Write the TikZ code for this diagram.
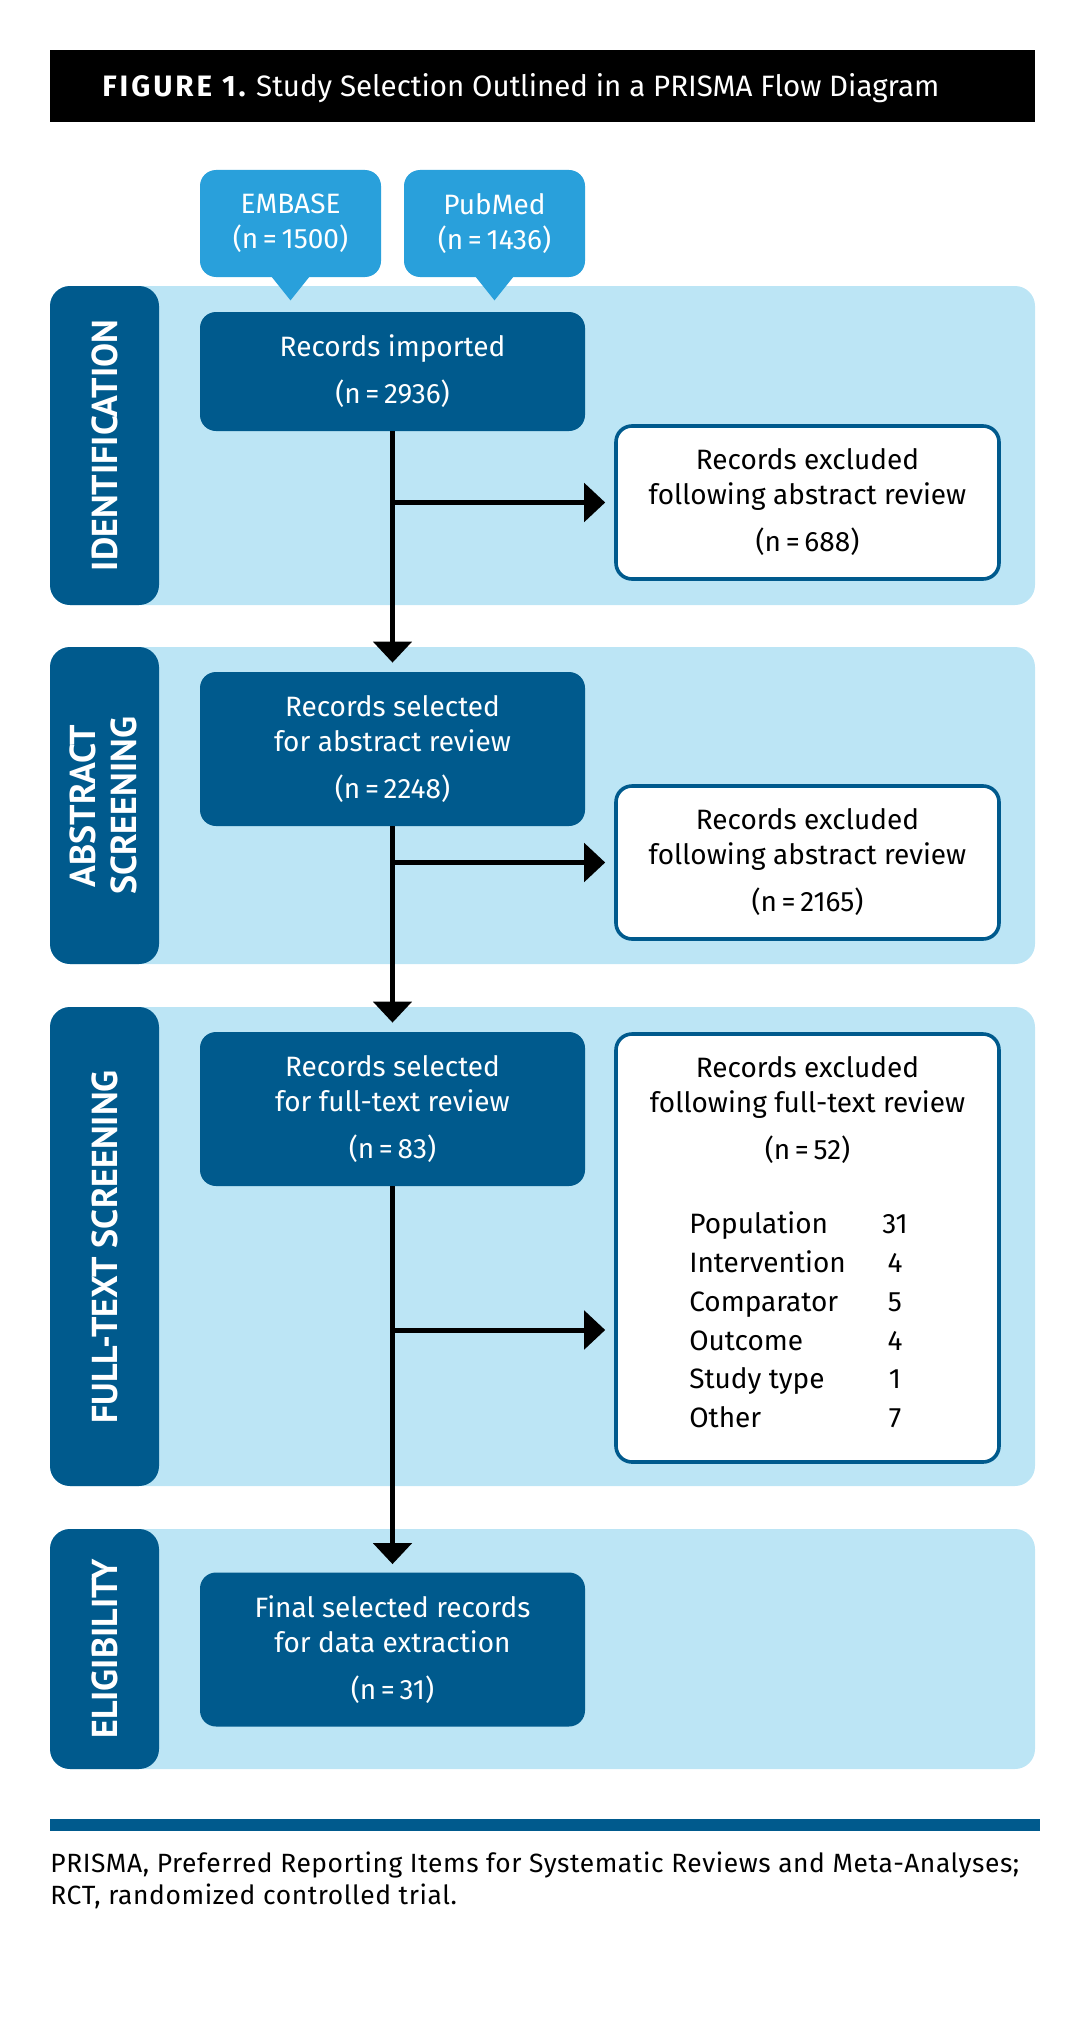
\documentclass[tikz,border=0pt]{standalone}
\usepackage{fontspec}
\setmainfont{Fira Sans}
\newfontfamily\stagefont{PT Sans}
\usetikzlibrary{arrows.meta, calc, positioning}

\definecolor{prismadark}{RGB}{0,90,141}
\definecolor{prismalight}{RGB}{188,229,245}
\definecolor{prismamid}{RGB}{41,160,219}

\newcommand{\prismatext}{\fontsize{14}{17.5}\selectfont}
\newcommand{\prismalabel}{\stagefont\bfseries\fontsize{18}{20.75}\selectfont}

\tikzset{
  stage/.style={fill=prismalight, rounded corners=10pt, inner sep=0pt,
    minimum width=492.5pt,
    path picture={\fill[prismadark] (path picture bounding box.south west)
      rectangle ([xshift=54.5pt]path picture bounding box.north west);}},
  stagelabel/.style={rotate=90, text=white, font=\prismalabel, align=center, inner sep=0pt},
  srcbox/.style={fill=prismamid, text=white, rounded corners=8pt, font=\prismatext,
    minimum width=90.5pt, minimum height=53.5pt, align=center, inner sep=0pt},
  selbox/.style={fill=prismadark, text=white, rounded corners=8pt, font=\prismatext,
    minimum width=192.5pt, align=center, inner sep=0pt},
  exclbox/.style={fill=white, draw=prismadark, line width=1.8pt, rounded corners=8pt,
    font=\prismatext, minimum width=191.5pt, align=center, inner sep=0pt},
  flow/.style={line width=2.5pt, -{Triangle[length=10.5pt,width=19pt]}},
}

\begin{document}
\begin{tikzpicture}[x=0.5pt, y=-0.5pt]
  \useasboundingbox (0,0) rectangle (1084,2017);

  % title bar
  \fill[black] (50,50) rectangle (1035,122);
  \node[anchor=base west, inner sep=0pt, text=white, font=\fontsize{14.75}{17}\selectfont] (title) at (102,97)
    {{\bfseries\addfontfeatures{LetterSpace=10}FIGURE 1.} Study Selection Outlined in a PRISMA Flow Diagram};

  % stages
  \node[stage, minimum height=159.5pt] (identstage) at (542.5,445.5) {};
  \node[stage, minimum height=158.5pt] (absstage) at (542.5,805.5) {};
  \node[stage, minimum height=239.5pt] (ftstage) at (542.5,1246.5) {};
  \node[stage, minimum height=120pt] (eligstage) at (542.5,1649) {};

  \node[stagelabel] (identlabel) at (104.5,445.5) {IDENTIFICATION};
  \node[stagelabel] (abslabel) at (103.5,806) {ABSTRACT\\SCREENING};
  \node[stagelabel] (ftlabel) at (104.5,1247) {FULL-TEXT SCREENING};
  \node[stagelabel] (eliglabel) at (104.5,1649) {ELIGIBILITY};

  % sources
  \node[srcbox] (embase) at (290.5,223.5) {EMBASE\\(n\,=\,1500)};
  \node[srcbox] (pubmed) at (494.5,223.5) {PubMed\\(n\,=\,1436)};
  \foreach \src in {embase, pubmed}
    \fill[prismamid] ([xshift=-10pt, yshift=1pt]\src.south) -- ([xshift=10pt, yshift=1pt]\src.south)
      -- ([yshift=-11.5pt]\src.south) -- cycle;

  % records
  \node[selbox, minimum height=59.5pt] (imported) at (392.5,371.5)
    {Records imported\\[6pt](n\,=\,2936)};
  \node[selbox, minimum height=77pt] (abssel) at (392.5,749)
    {Records selected\\for abstract review\\[6pt](n\,=\,2248)};
  \node[selbox, minimum height=77pt] (ftsel) at (392.5,1109)
    {Records selected\\for full-text review\\[6pt](n\,=\,83)};
  \node[selbox, minimum height=77pt] (final) at (392.5,1649.5)
    {Final selected records\\for data extraction\\[6pt](n\,=\,31)};

  % exclusions
  \node[exclbox, minimum height=76.5pt] (excl1) at (807.5,502.5)
    {Records excluded\\following abstract review\\[6pt](n\,=\,688)};
  \node[exclbox, minimum height=76.5pt] (excl2) at (807.5,862.5)
    {Records excluded\\following abstract review\\[6pt](n\,=\,2165)};
  \node[exclbox, minimum height=214pt] (excl3) at (807.5,1248)
    {Records excluded\\following full-text review\\[6pt](n\,=\,52)\\[19.5pt]
     \renewcommand{\arraystretch}{1.11}%
     \begin{tabular}[t]{@{}p{96.5pt}@{}c@{\hspace{9pt}}}
       Population & 31\\
       Intervention & 4\\
       Comparator & 5\\
       Outcome & 4\\
       Study type & 1\\
       Other & 7
     \end{tabular}};

  % flow
  \draw[flow, shorten >=4.5pt] (imported) -- (abssel);
  \draw[flow, shorten >=4.5pt] (abssel) -- (ftsel);
  \draw[flow, shorten >=4pt] (ftsel) -- (final);
  \coordinate (b1) at (imported.south |- excl1.west);
  \coordinate (b2) at (abssel.south |- excl2.west);
  \coordinate (b3) at (392.5,1330);
  \foreach \b/\e in {b1/excl1, b2/excl2, b3/excl3}
    \draw[flow, shorten >=4.5pt] (\b) -- (\b -| \e.west);

  % footnote
  \fill[prismadark] (50,1819) rectangle (1040,1831);
  \node[anchor=base west, align=left, inner sep=0pt,
    font=\fontsize{13.2}{16}\selectfont\addfontfeatures{LetterSpace=2.2}] (note) at (50,1904)
    {PRISMA, Preferred Reporting Items for Systematic Reviews and Meta-Analyses;\\
     RCT, randomized controlled trial.};
\end{tikzpicture}
\end{document}
